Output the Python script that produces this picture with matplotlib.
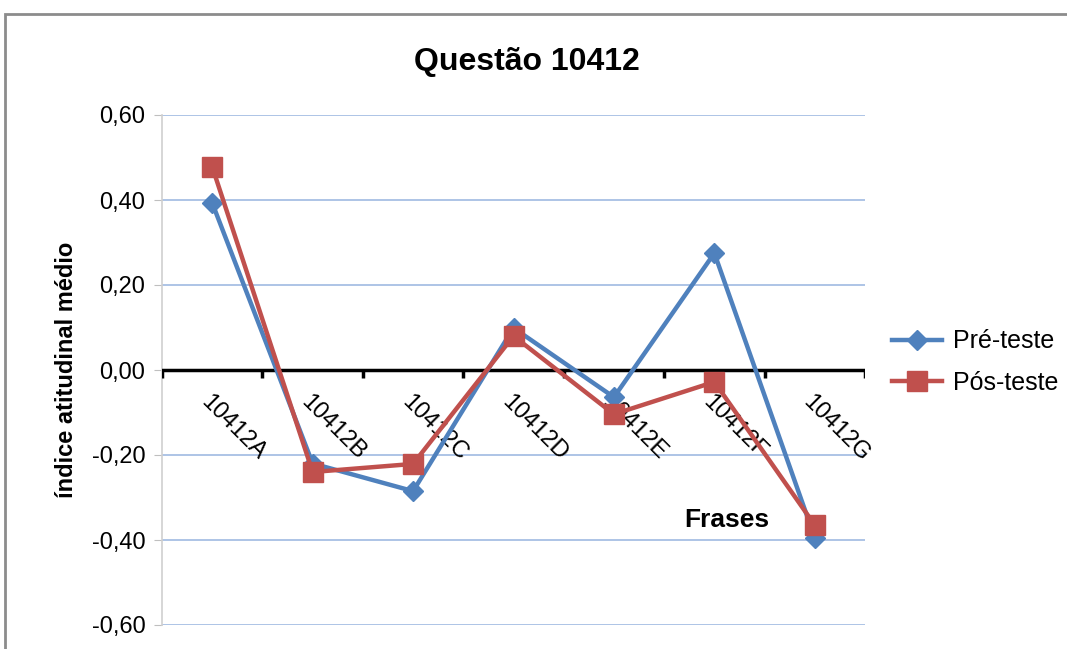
"""
Questão 10412 - line chart (pre/post test).
"""
from matplotlib import pyplot as plt
import matplotlib.patches as patches
from matplotlib.ticker import FuncFormatter

plt.rcParams['font.family'] = ['Liberation Sans', 'DejaVu Sans']

categories = ['10412A', '10412B', '10412C', '10412D', '10412E', '10412F', '10412G']
pre_teste = [0.393, -0.22, -0.285, 0.099, -0.064, 0.275, -0.395]
pos_teste = [0.478, -0.24, -0.221, 0.080, -0.104, -0.028, -0.365]
y_ticks = [-0.6, -0.4, -0.2, 0.0, 0.2, 0.4, 0.6]

blue = '#4F81BD'
red = '#C0504D'

fig = plt.figure(figsize=(10.67, 6.49), dpi=100)

# Outer chart frame (cropped at right and bottom)
frame = patches.Rectangle((5 / 1067, -0.1), 1.2, 1.1 - 14 / 649,
                          transform=fig.transFigure, fill=False,
                          edgecolor='#8C8C8C', linewidth=2, clip_on=False)
fig.patches.append(frame)

ax = fig.add_axes([162 / 1067, 24 / 649, 703 / 1067, 510 / 649])

x = list(range(len(categories)))
ax.plot(x, pre_teste, color=blue, linewidth=3.2, marker='D', markersize=10,
        label='Pré-teste', zorder=4)
ax.plot(x, pos_teste, color=red, linewidth=3.2, marker='s', markersize=14,
        label='Pós-teste', zorder=5)

ax.set_xlim(-0.5, len(categories) - 0.5)
ax.set_ylim(-0.6, 0.6)
ax.set_yticks(y_ticks)
ax.yaxis.set_major_formatter(FuncFormatter(lambda v, p: f'{v:.2f}'.replace('.', ',')))
ax.tick_params(axis='y', labelsize=17, length=6, color='#BFBFBF', pad=6)

for s in ['top', 'right', 'bottom']:
    ax.spines[s].set_visible(False)
ax.spines['left'].set_color('#D0D0D0')
ax.spines['left'].set_linewidth(1.2)

# gridlines
for v in y_ticks:
    if v != 0:
        ax.axhline(v, color='#A7BFE4', linewidth=1.3, zorder=1)

# category axis at zero
ax.axhline(0, color='black', linewidth=2.5, zorder=3)
ax.set_xticks([])
for b in range(len(categories) + 1):
    ax.plot([b - 0.5, b - 0.5], [0, -0.018], color='black', linewidth=2.5,
            zorder=3, solid_capstyle='butt')
for i, c in enumerate(categories):
    ax.text(i - 0.08, -0.068, c, rotation=-45, rotation_mode='anchor',
            ha='left', va='center', fontsize=17, zorder=2)

ax.set_ylabel('índice atitudinal médio', fontsize=17, fontweight='bold', labelpad=10)
ax.text(0.804, 0.206, 'Frases', transform=ax.transAxes, fontsize=19,
        fontweight='bold', ha='center', va='center')

fig.text(527 / 1067, 1 - 62 / 649, 'Questão 10412', fontsize=23,
         fontweight='bold', ha='center', va='center')

fig.legend(loc='center left', bbox_to_anchor=(892 / 1067, 1 - 362 / 649),
           frameon=False, fontsize=18, handlelength=2.0, labelspacing=0.7,
           handletextpad=0.45, borderaxespad=0, borderpad=0)

plt.savefig('out.png', dpi=100)
